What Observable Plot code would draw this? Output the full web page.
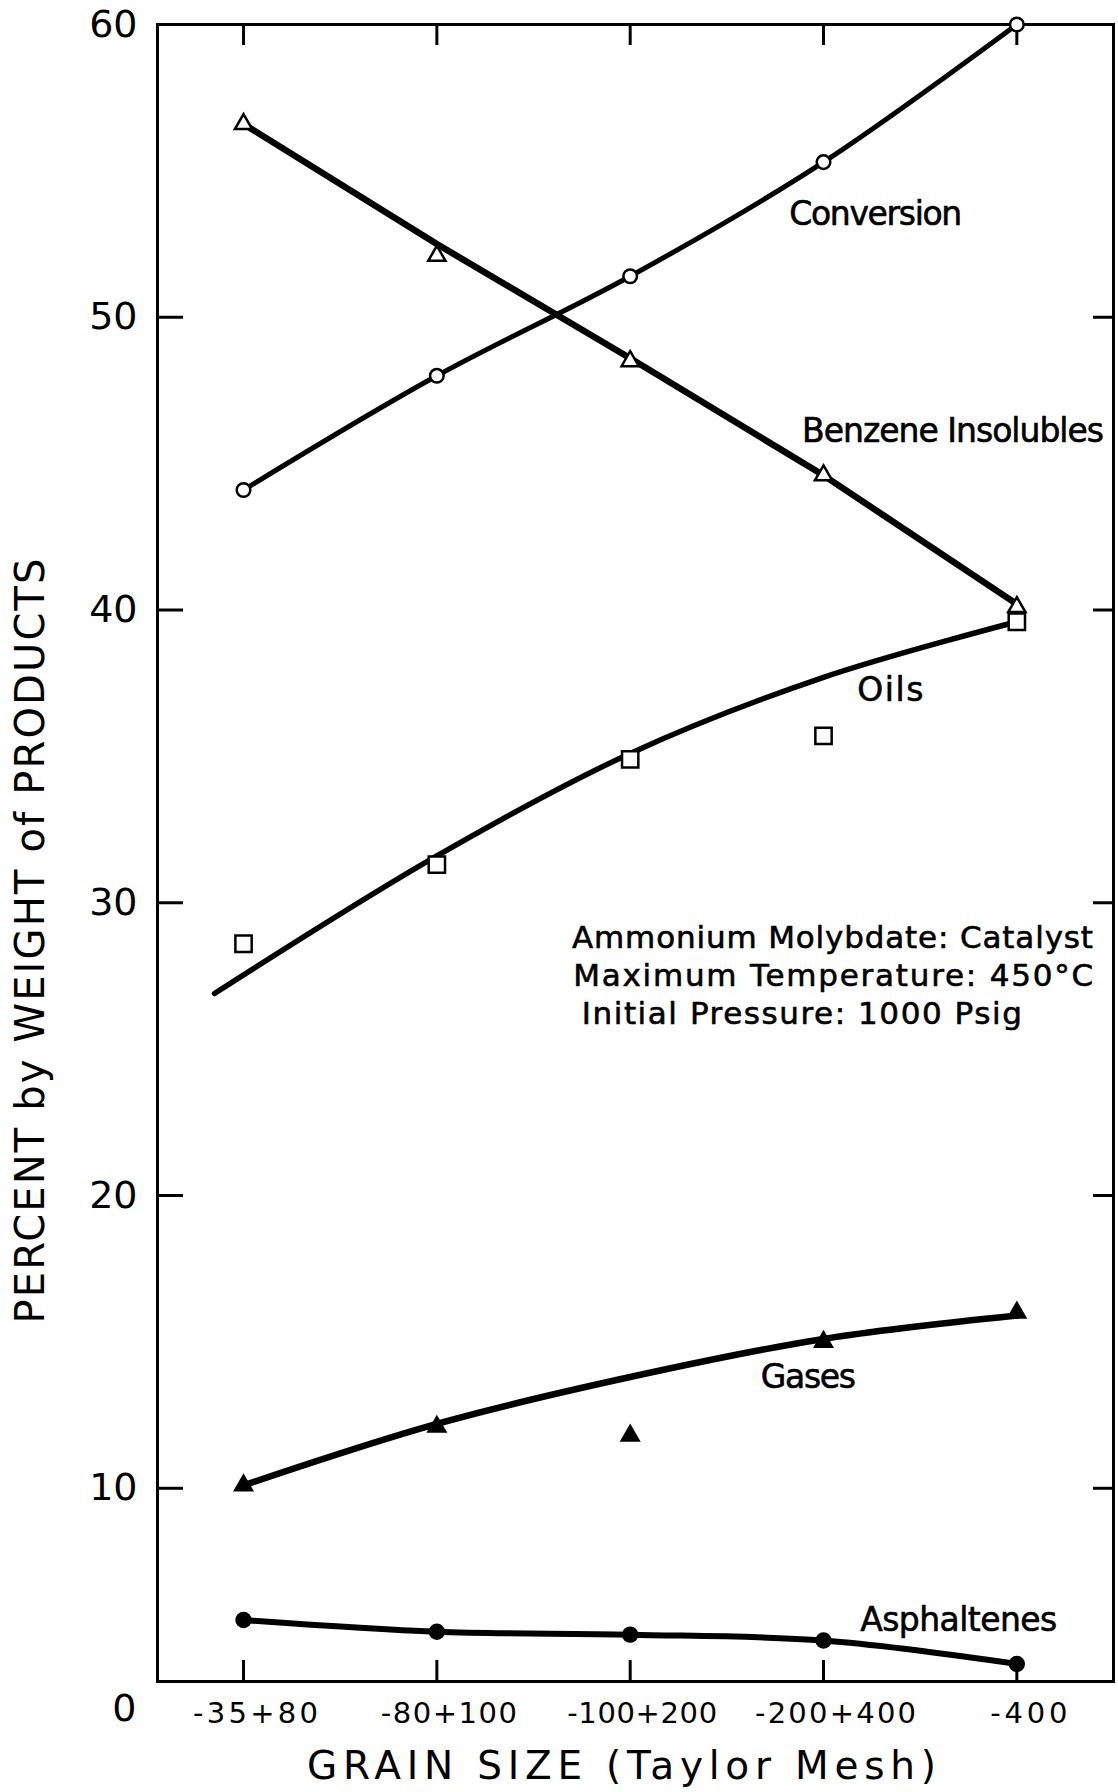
<!DOCTYPE html>
<html>
<head>
<meta charset="utf-8">
<script src="https://cdn.jsdelivr.net/npm/d3@7"></script>
<script src="https://cdn.jsdelivr.net/npm/@observablehq/plot@0.6"></script>
<style>
  html, body { margin: 0; padding: 0; background: #fff; }
  #chart svg { display: block; }
</style>
</head>
<body>
<div id="chart"></div>
<script>
// ---- data ----
const categories = ["-35+80", "-80+100", "-100+200", "-200+400", "-400"];
const conversion = [44.1, 48.0, 51.4, 55.3, 60.0];
const benzeneInsolubles = [56.6, 52.1, 48.5, 44.6, 40.1];
const oils = [28.6, 31.3, 34.9, 35.7, 39.6];
const gases = [10.1, 12.1, 11.8, 15.0, 16.0];
const asphaltenes = [5.5, 5.1, 5.0, 4.8, 4.0];

// hand-drawn fitted curves as they appear in the picture
const benzeneFitPos = [0, 1, 2, 3, 4];
const benzeneFit = [56.6, 52.5, 48.6, 44.6, 40.2];
const oilsFitPos = [-0.15, 1, 2, 3, 4];
const oilsFit = [26.9, 31.6, 35.1, 37.7, 39.6];
const gasesFitPos = [0, 1, 2, 3, 4];
const gasesFit = [10.1, 12.2, 13.8, 15.1, 15.9];

const yTicks = [10, 20, 30, 40, 50, 60];
const yTitle = "PERCENT by WEIGHT of PRODUCTS";
const xTitle = "GRAIN SIZE (Taylor Mesh)";

const seriesLabels = ["Conversion", "Benzene Insolubles", "Oils", "Gases", "Asphaltenes"];
const seriesLabelPos = [2.823, 2.889, 3.175, 2.676, 3.190];
const seriesLabelValue = [53.5, 46.1, 37.25, 13.8, 5.5];

const conditions = ["Ammonium Molybdate: Catalyst", "Maximum Temperature: 450°C", "Initial Pressure: 1000 Psig"];
const conditionPos = [1.699, 1.705, 1.750];
const conditionValue = [28.8, 27.5, 26.2];

// ---- layout ----
const W = 1118, H = 1792;
const mL = 157, mR = 5, mT = 24, mB = 111;
const frameW = W - mL - mR, frameH = H - mT - mB;

const idx = categories.map((d, i) => i);
const pts = (vals, pos) => vals.map((v, i) => ({x: pos ? pos[i] : i, y: v}));
const font = "'DejaVu Sans', sans-serif";

const plot = Plot.plot({
  width: W, height: H,
  marginLeft: mL, marginRight: mR, marginTop: mT, marginBottom: mB,
  style: {fontFamily: font, background: "#fff", color: "#000"},
  x: {domain: [-0.445, 4.5], label: null},
  y: {domain: [3.4, 60], label: null},
  marks: [
    Plot.frame({stroke: "#000", strokeWidth: 3}),
    // inward ticks
    Plot.tickY(yTicks.filter(d => d < 60), {y: d => d, insetRight: frameW - 26, stroke: "#000", strokeWidth: 3}),
    Plot.tickY(yTicks.filter(d => d < 60), {y: d => d, insetLeft: frameW - 20, stroke: "#000", strokeWidth: 3}),
    Plot.tickX(idx, {x: d => d, insetBottom: frameH - 21, stroke: "#000", strokeWidth: 3}),
    Plot.tickX(idx, {x: d => d, insetTop: frameH - 21, stroke: "#000", strokeWidth: 3}),
    // axes
    Plot.axisY({ticks: yTicks, tickSize: 0, tickPadding: 20, fontSize: 38, label: null, tickFormat: d => String(d)}),
    Plot.axisX({ticks: idx, tickSize: 0, tickPadding: 21, fontSize: 29, label: null, tickFormat: i => categories[i], dx: 12}),
    Plot.text(["0"], {frameAnchor: "bottom-left", textAnchor: "end", lineAnchor: "middle", dx: -21, dy: 27, fontSize: 38}),
    Plot.text([xTitle], {frameAnchor: "bottom", textAnchor: "middle", lineAnchor: "middle", dx: -14, dy: 85, fontSize: 39}),
    Plot.text([yTitle], {frameAnchor: "left", textAnchor: "middle", lineAnchor: "middle", rotate: -90, dx: -126, dy: 88, fontSize: 40}),
    // curves
    Plot.line(pts(conversion), {x: "x", y: "y", curve: "catmull-rom", stroke: "#000", strokeWidth: 5}),
    Plot.line(pts(benzeneFit, benzeneFitPos), {x: "x", y: "y", curve: "linear", stroke: "#000", strokeWidth: 6.5}),
    Plot.line(pts(oilsFit, oilsFitPos), {x: "x", y: "y", curve: "catmull-rom", stroke: "#000", strokeWidth: 5.5}),
    Plot.line(pts(gasesFit, gasesFitPos), {x: "x", y: "y", curve: "catmull-rom", stroke: "#000", strokeWidth: 6.5}),
    Plot.line(pts(asphaltenes), {x: "x", y: "y", curve: "catmull-rom", stroke: "#000", strokeWidth: 6}),
    // markers
    Plot.dot(pts(conversion), {x: "x", y: "y", symbol: "circle", r: 6.8, fill: "#fff", stroke: "#000", strokeWidth: 2.5}),
    Plot.dot(pts(benzeneInsolubles), {x: "x", y: "y", symbol: "triangle", r: 6.4, fill: "#fff", stroke: "#000", strokeWidth: 2.5}),
    Plot.dot(pts(oils), {x: "x", y: "y", symbol: "square", r: 9.2, fill: "#fff", stroke: "#000", strokeWidth: 2.5}),
    Plot.dot(pts(gases), {x: "x", y: "y", symbol: "triangle", r: 7.8, fill: "#000", stroke: "none"}),
    Plot.dot(pts(asphaltenes), {x: "x", y: "y", symbol: "circle", r: 8.2, fill: "#000", stroke: "none"}),
    // annotations
    Plot.text(seriesLabels, {x: (d, i) => seriesLabelPos[i], y: (d, i) => seriesLabelValue[i], text: d => d, textAnchor: "start", lineAnchor: "middle", fontSize: 33, fill: "#000", stroke: "#000", strokeWidth: 0.6}),
    Plot.text(conditions, {x: (d, i) => conditionPos[i], y: (d, i) => conditionValue[i], text: d => d, textAnchor: "start", lineAnchor: "middle", fontSize: 31, fill: "#000", stroke: "#000", strokeWidth: 0.6})
  ]
});

// stretch text to the lettering widths of the original drawing
const textWidths = new Map([
  ["Conversion", 173], ["Benzene Insolubles", 302], ["Oils", 66], ["Gases", 95], ["Asphaltenes", 197],
  ["Ammonium Molybdate: Catalyst", 521], ["Maximum Temperature: 450°C", 520], ["Initial Pressure: 1000 Psig", 440],
  [xTitle, 629], [yTitle, 765],
  ["-35+80", 125], ["-80+100", 136], ["-100+200", 150], ["-200+400", 161], ["-400", 77]
]);
d3.select(plot).selectAll("text").each(function () {
  const w = textWidths.get(this.textContent);
  if (w) {
    this.setAttribute("textLength", w);
    this.setAttribute("lengthAdjust", "spacing");
  }
});

document.getElementById("chart").appendChild(plot);
</script>
</body>
</html>
